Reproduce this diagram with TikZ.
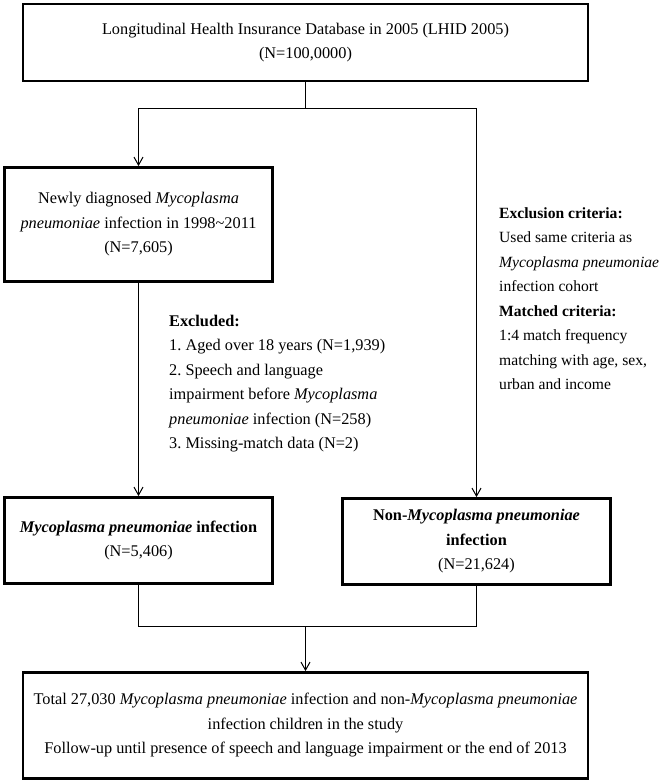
\documentclass[tikz,border=0pt]{standalone}
\usepackage{fontspec}
\setmainfont{Liberation Serif}
\usetikzlibrary{arrows.meta}
\frenchspacing
\begin{document}
\begin{tikzpicture}[x=1pt,y=-1pt,
  box/.style={draw=black, line width=2.8pt, align=center, inner sep=0pt,
    font=\fontsize{16.3}{24.5}\selectfont},
  txt/.style={align=left, inner sep=0pt, font=\fontsize{16.3}{24.5}\selectfont},
  conn/.style={draw=black, line width=1pt},
  arr/.style={conn, -{Straight Barb[length=8pt,width=9pt]}}]
\useasboundingbox (0,0) rectangle (667,783);
\fill[white] (0,0) rectangle (667,783);

\node[box, minimum width=565pt, minimum height=77pt] (top) at (305.5,42.5)
  {Longitudinal Health Insurance Database in 2005 (LHID 2005)\\(N=100,0000)};

\node[box, minimum width=268pt, minimum height=114pt] (newly) at (138.5,224.5)
  {Newly diagnosed \textit{Mycoplasma}\\\textit{pneumoniae} infection in 1998\textasciitilde2011\\(N=7,605)};

\node[box, minimum width=268pt, minimum height=86pt] (mp) at (138.5,540.5)
  {\textbf{\textit{Mycoplasma pneumoniae} infection}\\(N=5,406)};

\node[box, minimum width=268pt, minimum height=86pt] (nonmp) at (476.5,541.5)
  {\textbf{Non-\textit{Mycoplasma pneumoniae}}\\\textbf{infection}\\(N=21,624)};

\node[box, minimum width=565pt, minimum height=106pt] (bottom) at (305.5,725.5)
  {Total 27,030 \textit{Mycoplasma pneumoniae} infection and non-\textit{Mycoplasma pneumoniae}\\infection children in the study\\Follow-up until presence of speech and language impairment or the end of 2013};

\node[txt, anchor=west] (excl) at (169,383.5)
  {\textbf{Excluded:}\\1. Aged over 18 years (N=1,939)\\2. Speech and language\\impairment before \textit{Mycoplasma}\\\textit{pneumoniae} infection (N=258)\\3. Missing-match data (N=2)};

\node[txt, anchor=west, font=\fontsize{15.6}{24.5}\selectfont] (crit) at (499,298.5)
  {\textbf{Exclusion criteria:}\\Used same criteria as\\\textit{Mycoplasma pneumoniae}\\infection cohort\\\textbf{Matched criteria:}\\1:4 match frequency\\matching with age, sex,\\urban and income};

\coordinate (s1) at (305.5,109);
\coordinate (s2) at (305.5,626);

\draw[conn] (top.south) -- (s1);
\draw[arr] (s1) -| (newly.north);
\draw[arr] (s1) -| (nonmp.north);
\draw[arr] (newly.south) -- (mp.north);
\draw[conn] (mp.south) |- (s2);
\draw[conn] (nonmp.south) |- (s2);
\draw[arr] (s2) -- (bottom.north);
\end{tikzpicture}
\end{document}
